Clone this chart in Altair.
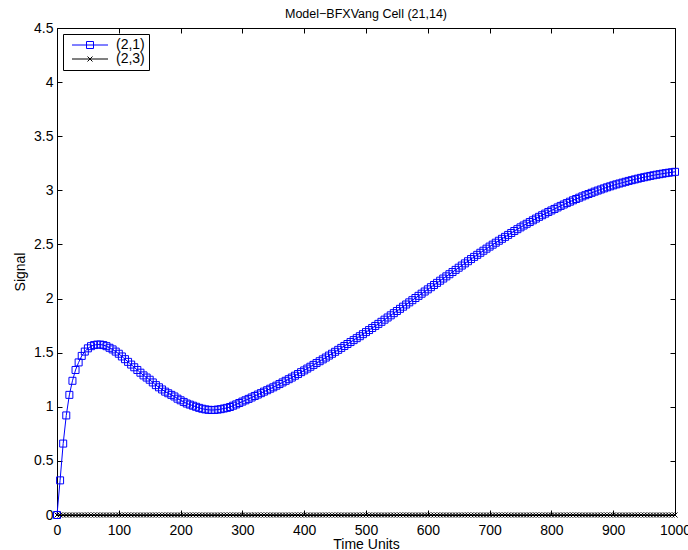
import altair as alt
import pandas as pd

FONT = "Liberation Sans"
BLUE = "#0000ff"
BLACK = "#000000"

title_text = "Model−BFXVang Cell (21,14)"
series_names = ["(2,1)", "(2,3)"]

# sampling grid of the simulation output (every 5 time units)
time_units = list(range(0, 1001, 5))

# cell (2,1): fast rise, overshoot, dip, then slow climb
signal_21 = [
    0.0, 0.32, 0.66, 0.92, 1.11, 1.24, 1.34, 1.41, 1.47, 1.51,
    1.54, 1.56, 1.57, 1.575, 1.575, 1.57, 1.56, 1.545, 1.53, 1.51,
    1.49, 1.465, 1.44, 1.415, 1.39, 1.365, 1.34, 1.315, 1.29, 1.27,
    1.25, 1.225, 1.20, 1.18, 1.16, 1.14, 1.125, 1.11, 1.095, 1.075,
    1.06, 1.045, 1.03, 1.02, 1.01, 1.00, 0.99, 0.982, 0.976, 0.972,
    0.97, 0.971, 0.974, 0.978, 0.984, 0.99, 0.998, 1.01, 1.022, 1.035,
    1.048, 1.06, 1.073, 1.086, 1.10, 1.113, 1.126, 1.14, 1.153, 1.167,
    1.18, 1.195, 1.21, 1.225, 1.24, 1.255, 1.27, 1.287, 1.303, 1.32,
    1.336, 1.353, 1.37, 1.387, 1.404, 1.421, 1.438, 1.455, 1.473, 1.49,
    1.508, 1.526, 1.544, 1.562, 1.58, 1.598, 1.616, 1.634, 1.652, 1.671,
    1.69, 1.709, 1.728, 1.747, 1.766, 1.785, 1.805, 1.825, 1.845, 1.865,
    1.885, 1.905, 1.925, 1.945, 1.965, 1.985, 2.005, 2.025, 2.045, 2.065,
    2.085, 2.105, 2.125, 2.145, 2.165, 2.185, 2.205, 2.225, 2.245, 2.265,
    2.285, 2.305, 2.325, 2.345, 2.365, 2.385, 2.404, 2.423, 2.442, 2.461,
    2.48, 2.498, 2.516, 2.534, 2.552, 2.57, 2.588, 2.606, 2.624, 2.641,
    2.658, 2.675, 2.691, 2.707, 2.723, 2.739, 2.755, 2.77, 2.785, 2.80,
    2.814, 2.828, 2.842, 2.856, 2.869, 2.882, 2.895, 2.908, 2.92, 2.932,
    2.944, 2.955, 2.966, 2.977, 2.988, 2.998, 3.008, 3.018, 3.028, 3.037,
    3.046, 3.055, 3.063, 3.071, 3.079, 3.087, 3.094, 3.101, 3.108, 3.115,
    3.121, 3.127, 3.133, 3.139, 3.144, 3.149, 3.154, 3.159, 3.163, 3.167,
    3.171,
]

# cell (2,3): stays at zero throughout
signal_23 = [0.0] * len(time_units)

x_ticks = list(range(0, 1001, 100))
y_ticks = [0, 0.5, 1, 1.5, 2, 2.5, 3, 3.5, 4, 4.5]

df = pd.DataFrame({
    "time": time_units + time_units,
    "signal": signal_21 + signal_23,
    "series": [series_names[0]] * len(time_units) + [series_names[1]] * len(time_units),
})

W, H = 618, 487
inward = alt.ExprRef("-5")
TXT = 14

x_scale = alt.Scale(domain=[0, 1000], nice=False, zero=False)
y_scale = alt.Scale(domain=[0, 4.5], nice=False, zero=False)

axis_style = dict(
    domainColor=BLACK, tickColor=BLACK, domainWidth=1, tickWidth=1, grid=False,
    labelFont=FONT, labelFontSize=TXT, labelColor=BLACK,
    titleFont=FONT, titleFontSize=TXT, titleFontWeight="normal", titleColor=BLACK,
    tickSize=inward,
)

x_bottom = alt.Axis(orient="bottom", values=x_ticks, format="d", title="Time Units",
                    labelPadding=13, titlePadding=0, labelFlush=False, **axis_style)
x_top = alt.Axis(orient="top", values=x_ticks, labels=False, **axis_style)
y_left = alt.Axis(orient="left", values=y_ticks, format="~g", title="Signal",
                  labelPadding=9, titlePadding=6, labelFlush=False, **axis_style)
y_right = alt.Axis(orient="right", values=y_ticks, labels=False, **axis_style)

x_field = "time:Q"
y_field = "signal:Q"

base = alt.Chart(df)
s21 = base.transform_filter(alt.datum.series == series_names[0])
s23 = base.transform_filter(alt.datum.series == series_names[1])

line_21 = s21.mark_line(color=BLUE, strokeWidth=1).encode(
    x=alt.X(x_field, scale=x_scale, axis=x_bottom),
    y=alt.Y(y_field, scale=y_scale, axis=y_left),
)
pts_21 = s21.mark_point(shape="square", filled=False, color=BLUE, size=49,
                        strokeWidth=1, opacity=1, clip=False).encode(
    x=alt.X(x_field, scale=x_scale, axis=x_top, title=None),
    y=alt.Y(y_field, scale=y_scale, axis=y_right, title=None),
)

X_MARK = "M-1,-1L1,1M-1,1L1,-1"
line_23 = s23.mark_line(color=BLACK, strokeWidth=1).encode(
    x=alt.X(x_field, scale=x_scale, axis=None),
    y=alt.Y(y_field, scale=y_scale, axis=None),
)
pts_23 = s23.mark_point(shape=X_MARK, filled=False, color=BLACK, size=25,
                        strokeWidth=1, opacity=1, clip=False).encode(
    x=alt.X(x_field, scale=x_scale, axis=None),
    y=alt.Y(y_field, scale=y_scale, axis=None),
)

# legend glyphs (unit scale): line segment with the series marker on it
legend_glyphs = [
    "M-18,0L18,0M-3.5,-3.5L3.5,-3.5L3.5,3.5L-3.5,3.5Z",
    "M-18,0L18,0M-2.5,-2.5L2.5,2.5M-2.5,2.5L2.5,-2.5",
]
legend = alt.Legend(
    title=None, orient="none", legendX=6, legendY=6, direction="vertical",
    fillColor="white", strokeColor=BLACK, padding=4,
    labelFont=FONT, labelFontSize=TXT, labelColor=BLACK,
    symbolSize=4, symbolStrokeWidth=1, labelOffset=19, rowPadding=0, symbolOffset=16,
)
legend_layer = base.transform_filter("false").mark_point(
    filled=False, size=4, strokeWidth=1, opacity=1
).encode(
    x=alt.X(x_field, scale=x_scale, axis=None),
    y=alt.Y(y_field, scale=y_scale, axis=None),
    color=alt.Color("series:N", scale=alt.Scale(domain=series_names, range=[BLUE, BLACK]), legend=legend),
    shape=alt.Shape("series:N", scale=alt.Scale(domain=series_names, range=legend_glyphs), legend=legend),
)

chart = alt.layer(line_21, pts_21, line_23, pts_23, legend_layer).resolve_axis(
    x="independent", y="independent"
).properties(
    width=W, height=H,
    title=alt.TitleParams(text=title_text, font=FONT, fontSize=12.5, fontWeight="normal",
                          color=BLACK, anchor="middle", offset=1),
    autosize=alt.AutoSizeParams(type="none"),
    padding={"left": 57, "top": 28, "right": 13, "bottom": 35},
    background="white",
).configure_view(stroke=None)

chart.save("out.html", embed_options={"renderer": "svg", "actions": False})
